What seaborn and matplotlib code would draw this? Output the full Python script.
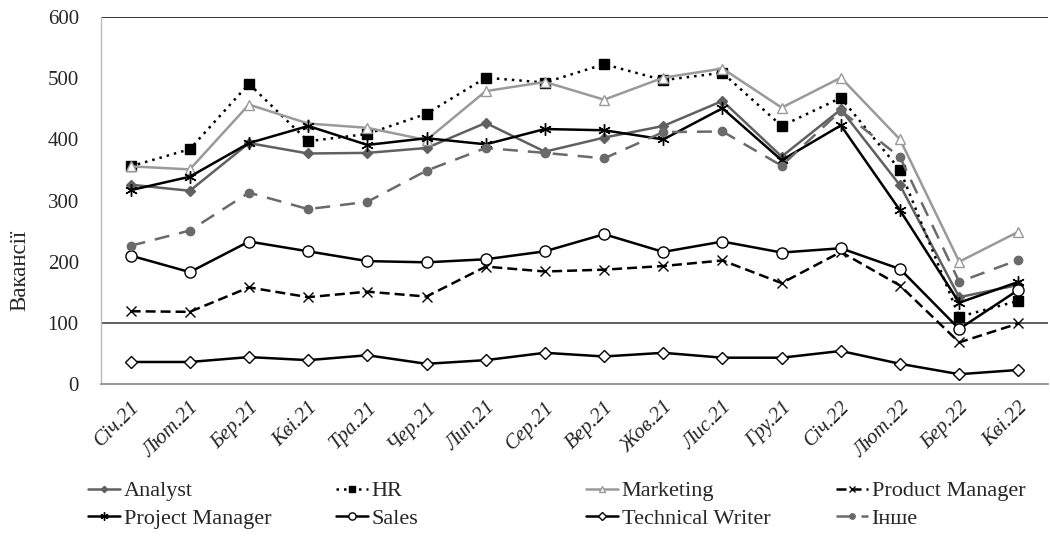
import matplotlib
matplotlib.use("Agg")
import matplotlib.pyplot as plt
import seaborn as sns
import pandas as pd
from matplotlib.ticker import FixedLocator

# Місяці (категорії осі X)
months = ["Січ.21", "Лют.21", "Бер.21", "Кві.21", "Тра.21", "Чер.21", "Лип.21", "Сер.21",
          "Вер.21", "Жов.21", "Лис.21", "Гру.21", "Січ.22", "Лют.22", "Бер.22", "Кві.22"]

# Кількість вакансій по професіях
analyst = [326, 316, 394, 377, 378, 386, 427, 380, 403, 422, 463, 372, 449, 325, 142, 162]
hr = [356, 384, 491, 397, 409, 442, 501, 493, 523, 497, 509, 422, 468, 350, 110, 136]
marketing = [356, 351, 457, 426, 419, 399, 479, 494, 465, 501, 516, 452, 501, 400, 200, 249]
product_manager = [119, 118, 158, 142, 151, 143, 192, 184, 187, 193, 202, 165, 216, 161, 68, 99]
project_manager = [317, 339, 394, 422, 391, 402, 392, 417, 415, 400, 451, 366, 423, 284, 133, 167]
sales = [210, 183, 233, 217, 201, 199, 204, 217, 245, 216, 233, 215, 222, 188, 90, 154]
technical_writer = [36, 36, 44, 39, 47, 33, 39, 51, 45, 51, 43, 43, 54, 33, 16, 23]
inshe = [226, 251, 313, 286, 298, 349, 386, 378, 369, 412, 413, 357, 447, 371, 167, 203]

series = {
    "Analyst": analyst,
    "HR": hr,
    "Marketing": marketing,
    "Product Manager": product_manager,
    "Project Manager": project_manager,
    "Sales": sales,
    "Technical Writer": technical_writer,
    "Інше": inshe,
}

# стиль для кожної лінії: колір, маркер, тип лінії, заливка маркера
styles = {
    "Analyst": dict(color="#606060", marker="D", ls="-", mfc="#606060", ms=5),
    "HR": dict(color="black", marker="s", ls=(0, (1, 2)), mfc="black", ms=7),
    "Marketing": dict(color="#9a9a9a", marker="^", ls="-", mfc="white", ms=7),
    "Product Manager": dict(color="black", marker="x", ls=(0, (4, 2)), mfc="black", ms=7),
    "Project Manager": dict(color="black", marker=(6, 2, 0), ls="-", mfc="black", ms=9),
    "Sales": dict(color="black", marker="o", ls="-", mfc="white", ms=8),
    "Technical Writer": dict(color="black", marker="D", ls="-", mfc="white", ms=6),
    "Інше": dict(color="#6a6a6a", marker="o", ls=(0, (6, 4)), mfc="#6a6a6a", ms=6),
}

rows = []
for name, vals in series.items():
    for m, v in zip(months, vals):
        rows.append({"Місяць": m, "Вакансії": v, "Професія": name})
df = pd.DataFrame(rows)

sns.set_style("white")
plt.rcParams["font.family"] = ["Liberation Serif", "DejaVu Serif"]

fig = plt.figure(figsize=(10.5, 5.36), dpi=100)
ax = fig.add_axes([0.0962, 0.2836, 0.9019, 0.6844])

handles = {}
for name in series:
    st = styles[name]
    sub = df[df["Професія"] == name]
    sns.lineplot(data=sub, x="Місяць", y="Вакансії", ax=ax, color=st["color"],
                 linestyle=st["ls"], linewidth=1.8, marker=st["marker"],
                 markersize=st["ms"], markerfacecolor=st["mfc"],
                 markeredgecolor=st["color"], markeredgewidth=1.0,
                 sort=False, legend=False)
    handles[name] = ax.lines[-1]

ax.set_xlim(-0.5, len(months) - 0.5)
ax.set_ylim(0, 600)
ax.set_yticks([0, 100, 200, 300, 400, 500, 600])
ax.tick_params(axis="y", length=0, pad=16, labelsize=15)

# лінії сітки, що видно на оригіналі
ax.axhline(100, color="#333333", lw=1.1, zorder=0)
ax.axhline(600, color="#333333", lw=1.4, zorder=0)

for s in ["top", "right"]:
    ax.spines[s].set_visible(False)
ax.spines["left"].set_color("#bbbbbb")
ax.spines["left"].set_linewidth(1.0)
ax.spines["bottom"].set_color("#888888")
ax.spines["bottom"].set_linewidth(1.2)

ax.set_xticks(range(len(months)))
ax.set_xticklabels(months, rotation=45, ha="right", rotation_mode="anchor",
                   fontsize=15, fontstyle="italic")
ax.tick_params(axis="x", which="major", length=0, pad=10)
ax.xaxis.set_minor_locator(FixedLocator([i - 0.5 for i in range(len(months) + 1)]))
ax.tick_params(axis="x", which="minor", length=6, color="#888888", width=1.0)

ax.set_xlabel("")
ax.set_ylabel("Вакансії", fontsize=16.5)
ax.yaxis.set_label_coords(-0.075, 0.31)

# легенда: 4 колонки по 2 рядки
columns = [["Analyst", "Project Manager"], ["HR", "Sales"],
           ["Marketing", "Technical Writer"], ["Product Manager", "Інше"]]
col_x = [88, 336, 586, 836]
for names, x in zip(columns, col_x):
    leg = fig.legend([handles[n] for n in names], names, loc="upper left",
                     bbox_to_anchor=(x / 1050, 0.103), frameon=False, fontsize=16,
                     handlelength=1.45, handletextpad=0.15, labelspacing=0.3,
                     borderpad=0, borderaxespad=0, markerscale=0.65)

fig.savefig("out.png", dpi=100)
